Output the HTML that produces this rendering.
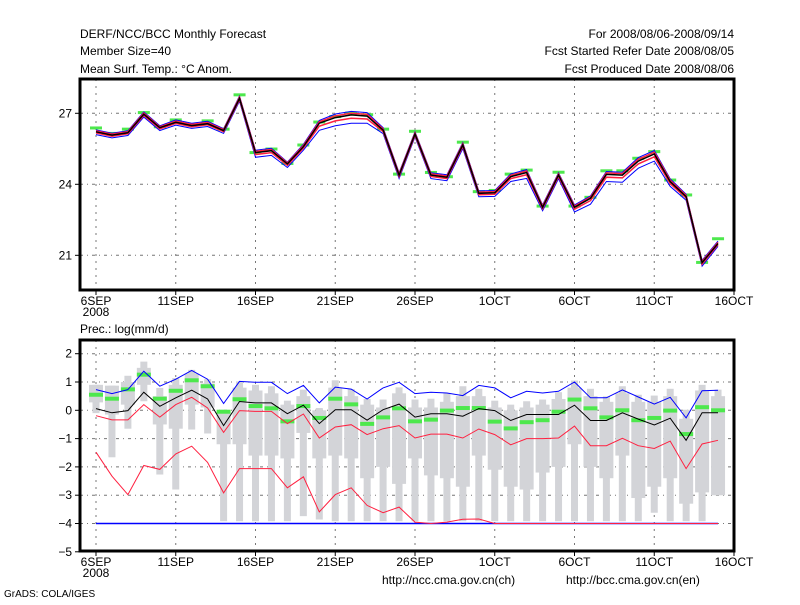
<!DOCTYPE html>
<html><head><meta charset="utf-8"><style>
body{margin:0;background:#fff;}
svg text{font-family:"Liberation Sans",sans-serif;font-size:12px;fill:#000;}
</style></head><body>
<svg id="c" width="800" height="600" xmlns="http://www.w3.org/2000/svg">
<rect width="800" height="600" fill="#fff"/>
<text x="80" y="38">DERF/NCC/BCC Monthly Forecast</text>
<text x="80" y="55">Member Size=40</text>
<text x="80" y="73">Mean Surf. Temp.: °C Anom.</text>
<text x="734" y="38" text-anchor="end">For 2008/08/06-2008/09/14</text>
<text x="734" y="55" text-anchor="end">Fcst Started Refer Date 2008/08/05</text>
<text x="734" y="73" text-anchor="end">Fcst Produced Date 2008/08/06</text>
<text x="80" y="333">Prec.: log(mm/d)</text>
<text x="382" y="584">http://ncc.cma.gov.cn(ch)</text>
<text x="566" y="584">http://bcc.cma.gov.cn(en)</text>
<text x="4" y="597" style="font-size:10px">GrADS: COLA/IGES</text>
<g id="topPanel"></g>
<g id="botPanel"></g>
</svg>
<script>
// ---- data ----
const xLabels = ["6SEP","11SEP","16SEP","21SEP","26SEP","1OCT","6OCT","11OCT","16OCT"];
const tTicks = [27,24,21];
const tMean = [26.22,26.08,26.18,26.96,26.39,26.62,26.48,26.56,26.27,27.63,25.34,25.42,24.86,25.59,26.58,26.82,26.93,26.88,26.29,24.39,26.12,24.39,24.30,25.66,23.62,23.64,24.32,24.50,23.03,24.39,23.03,23.41,24.42,24.39,24.98,25.28,24.11,23.48,20.69,21.50];
const tObs = [26.38,26.15,26.33,27.03,26.43,26.72,26.52,26.68,26.33,27.78,25.34,25.49,24.88,25.66,26.63,26.86,27.01,26.94,26.33,24.43,26.24,24.50,24.32,25.78,23.69,23.74,24.43,24.60,23.08,24.51,23.08,23.45,24.57,24.57,25.10,25.38,24.18,23.55,20.70,21.70];
const tHiOff = [0.08,0.08,0.08,0.1,0.08,0.1,0.1,0.1,0.08,0.1,0.1,0.1,0.08,0.1,0.12,0.15,0.15,0.15,0.1,0.1,0.1,0.1,0.1,0.1,0.1,0.1,0.12,0.12,0.1,0.1,0.1,0.1,0.12,0.12,0.15,0.15,0.12,0.1,0.1,0.1];
const tLoOff = [0.12,0.12,0.12,0.12,0.12,0.12,0.12,0.12,0.12,0.12,0.2,0.2,0.15,0.15,0.3,0.35,0.35,0.3,0.15,0.15,0.12,0.15,0.15,0.15,0.15,0.15,0.2,0.25,0.15,0.15,0.2,0.25,0.3,0.3,0.3,0.3,0.2,0.15,0.15,0.12];
const pTicks = [2,1,0,-1,-2,-3,-4,-5];
const pMax = [0.9,0.87,1.22,1.72,0.79,1.14,1.43,1.1,0.02,1.02,0.9,0.85,0.34,0.73,0.08,1.06,0.75,0.4,0.38,0.81,0.38,0.41,0.61,0.85,0.76,0.34,0.2,0.32,0.38,0.64,1.05,0.76,0.49,0.85,0.55,0.52,0.76,0.02,0.9,0.73];
const pQ3 = [0.9,0.87,1.0,1.5,0.5,0.9,1.3,0.95,-0.1,0.8,0.7,0.6,0.2,0.5,0,0.8,0.5,0.2,0.1,0.6,0.1,0.1,0.3,0.5,0.5,0.1,0,0.1,0.2,0.4,0.8,0.5,0.3,0.6,0.3,0.3,0.5,-0.3,0.7,0.5];
const pQ1 = [0.28,-0.15,0.2,0.9,-0.5,-0.65,0.2,0.1,-1.2,-1.2,-1.6,-1.6,-1.7,-0.8,-1.7,-1.6,-1.7,-2.4,-2.0,-2.6,-1.7,-2.3,-2.4,-2.7,-1.6,-2.1,-2.7,-2.8,-2.2,-2.0,-1.2,-2.0,-2.4,-1.6,-3.1,-2.7,-2.4,-3.3,-2.9,-3.0];
const pMin = [-0.1,-1.66,-0.65,0.32,-2.27,-2.8,-0.68,-0.82,-3.92,-3.92,-3.92,-3.92,-3.92,-3.74,-3.86,-3.92,-3.92,-3.92,-3.92,-3.92,-3.92,-3.92,-3.92,-3.92,-3.92,-3.92,-3.92,-3.92,-3.92,-3.92,-3.92,-3.92,-3.92,-3.92,-3.92,-3.62,-3.92,-3.92,-3.92,-3.0];
const pBlue = [0.73,0.59,0.73,1.38,0.85,1.1,1.41,1.1,0.24,1.02,0.99,0.99,0.59,0.88,0.26,0.82,0.75,0.4,0.79,0.99,0.59,0.64,0.61,0.52,0.88,0.79,0.44,0.67,0.61,0.67,1.0,0.44,0.44,0.72,0.47,0.22,0.46,-0.27,0.69,0.71];
const pBlack = [0.06,-0.09,-0.01,0.64,0.14,0.44,0.71,0.4,-0.54,0.31,0.26,0.26,-0.12,0.18,-0.47,0.02,0.02,-0.35,0.02,0.22,-0.24,-0.12,-0.12,-0.21,0.06,-0.01,-0.36,-0.15,-0.15,-0.15,0.18,-0.36,-0.36,-0.09,-0.31,-0.52,-0.28,-1.06,-0.09,-0.09];
const pRed = [-0.19,-0.34,-0.34,0.2,-0.24,0.2,0.46,0.08,-0.78,-0.01,-0.04,-0.04,-0.47,-0.13,-0.98,-0.59,-0.51,-0.86,-0.65,-0.54,-0.98,-0.84,-0.84,-0.98,-0.66,-0.86,-1.22,-1.0,-1.0,-0.98,-0.56,-1.25,-1.25,-0.99,-1.25,-1.35,-1.09,-2.06,-1.19,-1.06];
const pRedLow = [-1.48,-2.33,-2.98,-1.95,-2.09,-1.54,-1.27,-1.84,-2.92,-2.06,-2.06,-2.06,-2.74,-2.35,-3.59,-2.98,-2.74,-3.36,-3.62,-3.42,-3.95,-4.0,-3.95,-3.85,-3.84,-4.0,-4,-4,-4,-4,-4,-4,-4,-4,-4,-4,-4,-4,-4,-4];
const pObs = [0.55,0.41,0.74,1.26,0.41,0.69,1.06,0.85,-0.05,0.39,0.15,0.07,-0.39,0.15,-0.27,0.41,0.21,-0.48,-0.25,0.07,-0.39,-0.33,-0.01,0.08,0.08,-0.4,-0.64,-0.42,-0.35,-0.05,0.38,0.07,-0.25,0,-0.35,-0.27,-0.01,-0.84,0.11,0];
const pFloor = -4;

// ---- helpers ----
const NS="http://www.w3.org/2000/svg";
const L=80,R=734,dayW=(734-96)/40;
const xS=d=>96+dayW*d;
const tY=v=>184.3-(v-24)*23.67;
const pY=v=>410.3-28.3*v;
function mk(parent,tag,attrs){const e=document.createElementNS(NS,tag);for(const k in attrs)e.setAttribute(k,attrs[k]);parent.appendChild(e);return e;}
function poly(parent,vals,yf,color,w,name){
  const pts=vals.map((v,i)=>xS(i).toFixed(1)+","+yf(v).toFixed(1)).join(" ");
  const e=mk(parent,"polyline",{points:pts,fill:"none",stroke:color,"stroke-width":w});
  
  
  return e;
}
function panel(g,y0,y1,ticks,yf,name){
  xLabels.forEach((lab,i)=>{
    const x=96+i*5*dayW;
    if(i<xLabels.length-1) mk(g,"line",{x1:x,x2:x,y1:y0,y2:y1,stroke:"#777","stroke-dasharray":"2,5","stroke-width":1});
    mk(g,"line",{x1:x,x2:x,y1:y1,y2:y1+5,stroke:"#000"});
    const t=mk(g,"text",{x:x,y:y1+15,"text-anchor":"middle","font-size":"11"});
    t.textContent=lab;
    
    
  });
  const y2=mk(g,"text",{x:96,y:y1+26,"text-anchor":"middle","font-size":"11"});y2.textContent="2008";
  
  
  ticks.forEach(v=>{
    const y=yf(v);
    if(y>y0+2&&y<y1-2) mk(g,"line",{x1:L,x2:R,y1:y,y2:y,stroke:"#777","stroke-dasharray":"3,4,1,4","stroke-width":1});
    mk(g,"line",{x1:L-5,x2:L,y1:y,y2:y,stroke:"#000"});
    const t=mk(g,"text",{x:L-8,y:y+4,"text-anchor":"end","font-size":"11"});
    t.textContent=v<0?"\u2212"+(-v):v;
    
    
  });
  const fr=mk(g,"rect",{x:L,y:y0,width:R-L,height:y1-y0,fill:"none",stroke:"#000","stroke-width":3});
  
  
}
// ---- top panel ----
const topG=document.getElementById("topPanel");
panel(topG,79,290,tTicks,tY,"temperature-frame");
tObs.forEach((v,i)=>{
  const r=mk(topG,"rect",{x:xS(i)-6,y:tY(v)-1.5,width:12,height:3,fill:"#4de84d"});
  
  
});
poly(topG,tMean.map((v,i)=>v+tHiOff[i]),tY,"#0000ff",1,"temp-upper-bound");
poly(topG,tMean.map((v,i)=>v-tLoOff[i]),tY,"#0000ff",1,"temp-lower-bound");
poly(topG,tMean.map((v,i)=>v+tHiOff[i]*0.5),tY,"#ff2040",1.5,"temp-upper-quartile");
poly(topG,tMean.map((v,i)=>v-tLoOff[i]*0.4),tY,"#ff2040",1.5,"temp-lower-quartile");
poly(topG,tMean,tY,"#000",1.5,"temp-ensemble-mean");
// ---- bottom panel ----
const botG=document.getElementById("botPanel");
panel(botG,340,551,pTicks,pY,"precip-frame");
pMax.forEach((v,i)=>{
  const x=xS(i);
  const n=mk(botG,"rect",{x:x-3.5,y:pY(pMax[i]),width:7,height:pY(pMin[i])-pY(pMax[i]),fill:"#d3d4d8"});
  
  
  const w=mk(botG,"rect",{x:x-7,y:pY(pQ3[i]),width:14,height:pY(pQ1[i])-pY(pQ3[i]),fill:"#d3d4d8"});
  
  
});
poly(botG,pMax.map(()=>pFloor),pY,"#0000ff",1.5,"precip-floor-line");
poly(botG,pRedLow,pY,"#ff2040",1,"precip-min-line");
pObs.forEach((v,i)=>{
  const r=mk(botG,"rect",{x:xS(i)-7,y:pY(v)-2,width:14,height:4,fill:"#4de84d"});
  
  
});
poly(botG,pRed,pY,"#ff2040",1,"precip-lower-line");
poly(botG,pBlack,pY,"#000",1,"precip-mean-line");
poly(botG,pBlue,pY,"#0000ff",1,"precip-max-line");
</script>
</body></html>
